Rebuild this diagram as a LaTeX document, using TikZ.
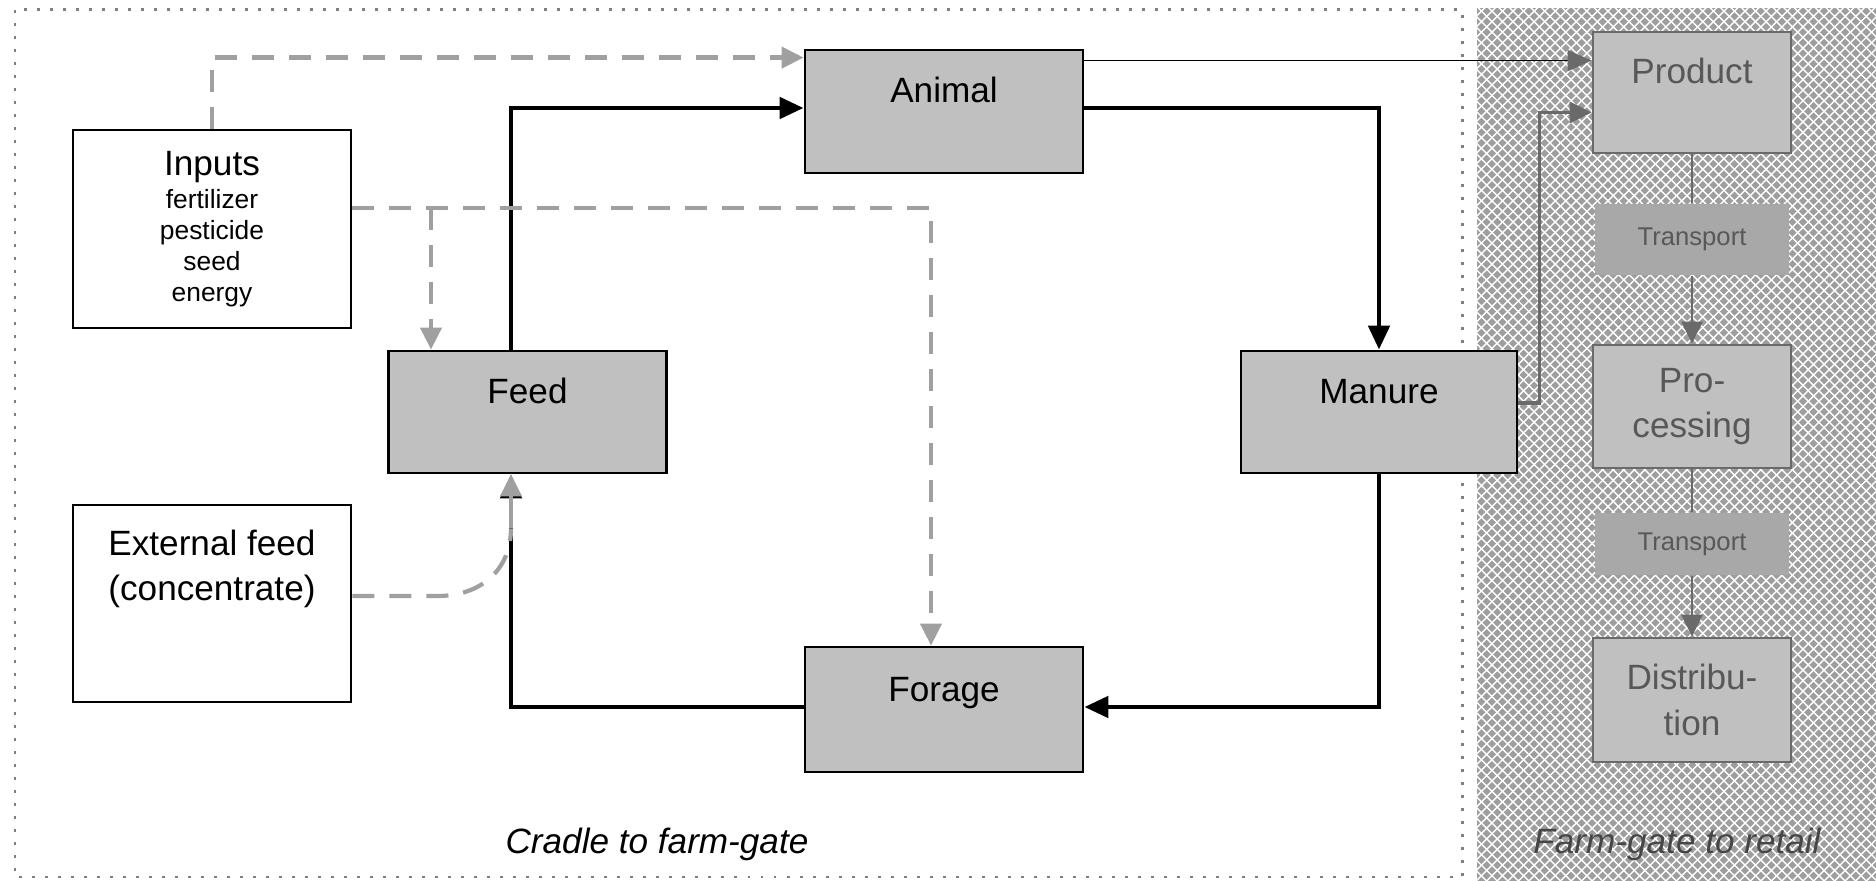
\documentclass[tikz,border=0pt]{standalone}
\usepackage{fontspec}
\setmainfont{Liberation Sans}
\usetikzlibrary{arrows.meta,patterns}
\definecolor{boxgray}{HTML}{C0C0C0}
\definecolor{dashgray}{HTML}{A0A0A0}
\definecolor{hatchgray}{HTML}{9E9E9E}
\definecolor{retailline}{HTML}{6A6A6A}
\definecolor{retailtext}{HTML}{585858}
\definecolor{transgray}{HTML}{A8A8A8}

\begin{document}
\begin{tikzpicture}[font=\fontsize{10}{13}\selectfont,
  box/.style={draw=black,line width=0.8pt,fill=boxgray,minimum width=2.78cm,minimum height=1.23cm,inner sep=0pt,align=center},
  white box/.style={box,fill=white},
  raised/.style={text height=2.5mm,text depth=4.2mm},
  retail/.style={box,draw=retailline,text=retailtext,minimum width=1.98cm},
  transport/.style={fill=transgray,text=retailtext,minimum width=1.94cm,inner sep=0pt,font=\fontsize{7.3}{9}\selectfont},
  flow/.style={line width=1.4pt,-{Triangle[length=2.4mm,width=2.1mm]}},
  supply/.style={dashgray,line width=1.2pt,dash pattern=on 2.2mm off 1.5mm,-{Triangle[length=2.2mm,width=2.1mm]}},
  chain/.style={retailline,line width=0.7pt,-{Triangle[length=2.2mm,width=2.1mm]}}]
  \useasboundingbox (0,0) rectangle (18.76,-8.81);
  % the two stages
  \fill[hatchgray] (14.77,-0.08) rectangle (18.76,-8.81);
  \fill[pattern=north east lines,pattern color=white] (14.77,-0.08) rectangle (18.76,-8.81);
  \fill[pattern=north west lines,pattern color=white] (14.77,-0.08) rectangle (18.76,-8.81);
  \draw[gray,line width=0.85pt,dash pattern=on 0.85pt off 2.85pt] (0.15,-0.10) rectangle (14.62,-8.77);
  \node (cradle) at (6.57,-8.44) {\itshape Cradle to farm-gate};
  \node[text=retailtext!80!black] (retail) at (16.77,-8.44) {\itshape Farm-gate to retail};

  % farm
  \node[white box,minimum height=1.98cm,font=\fontsize{7.5}{8.8}\selectfont] (inputs) at (2.12,-2.29)
       {\fontsize{10}{12}\selectfont Inputs\\[0.5pt] fertilizer\\pesticide\\seed\\energy};
  \node[white box,minimum height=1.97cm,text height=2.5mm,text depth=3mm] (external) at (2.12,-6.035)
       {External feed\\(concentrate)};
  \node[box,raised] (animal) at (9.44,-1.115) {Animal};
  \node[box,raised,minimum height=1.22cm] (feed) at (5.275,-4.12) {Feed};
  \node[box,raised,minimum width=2.76cm,minimum height=1.22cm] (manure) at (13.79,-4.12) {Manure};
  \node[box,raised,minimum height=1.25cm] (forage) at (9.44,-7.095) {Forage};

  % retail chain
  \node[retail,raised,minimum height=1.21cm] (product) at (16.92,-0.925) {Product};
  \node[transport,minimum height=0.71cm] (transport1) at (16.92,-2.395) {Transport};
  \node[retail] (processing) at (16.92,-4.065) {Pro-\\cessing};
  \node[transport,minimum height=0.62cm] (transport2) at (16.92,-5.44) {Transport};
  \node[retail,minimum height=1.24cm] (distribution) at (16.92,-7.00) {Distribu-\\tion};

  \draw[retailline,line width=0.7pt] (product) -- (transport1);
  \draw[chain] (transport1) -- (processing);
  \draw[retailline,line width=0.7pt] (processing) -- (transport2);
  \draw[chain] (transport2) -- (distribution);

  % main cycle
  \coordinate (feedfoot) at ([xshift=-1.65mm]feed.south);
  \draw[flow] ([xshift=-1.65mm]feed.north) |- ([yshift=0.35mm]animal.west);
  \draw[flow] ([yshift=0.35mm]animal.east) -| (manure.north);
  \draw[flow] (manure.south) |- ([yshift=0.25mm]forage.east);
  \draw[flow] ([yshift=0.25mm]forage.west) -| (feedfoot);

  % to the retail chain
  \coordinate (animalout) at ([yshift=-1.2mm]animal.north east);
  \draw[line width=0.5pt,-{Triangle[length=2.4mm,width=2.1mm,color=retailline]}] (animalout) -- (animalout -| product.west);
  \draw[chain,line width=1pt] ([yshift=0.9mm]manure.east) -- ++(0.21,0) |- ([yshift=-2mm]product.west);

  % inputs
  \coordinate (inputsout) at ([yshift=2.1mm]inputs.east);
  \coordinate (feedin) at ([xshift=-9.65mm]feed.north);
  \draw[supply] (inputs.north) |- ([yshift=-0.9mm]animal.north west);
  \draw[supply] (inputsout) -| ([xshift=-1.3mm]forage.north);
  \draw[supply] (inputsout -| feedin) -- (feedin);
  \draw[supply,-] ([yshift=0.75mm]external.east) -- ++(0.85,0)
        .. controls +(0.45,0) and +(0,-0.4) .. ([yshift=-5.4mm]feedfoot);
  \draw[supply,solid] ([yshift=-5.4mm]feedfoot) -- (feedfoot);
\end{tikzpicture}
\end{document}
